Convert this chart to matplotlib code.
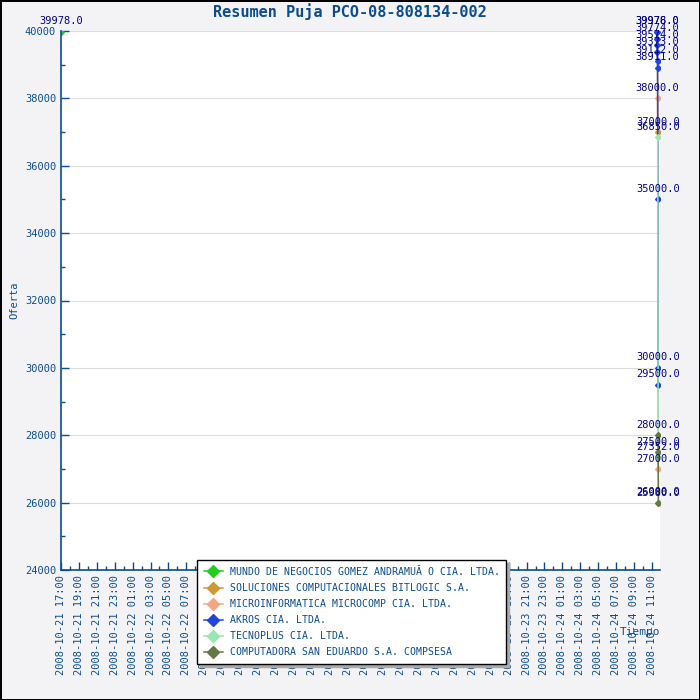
import matplotlib
matplotlib.use('Agg')
import matplotlib.pyplot as plt
import matplotlib.dates as mdates
from matplotlib.ticker import MultipleLocator
from datetime import datetime

# Ofertas por proveedor (tiempo, valor)
nombres = ['MUNDO DE NEGOCIOS GOMEZ ANDRAMUĂ O CIA. LTDA.',
           'SOLUCIONES COMPUTACIONALES BITLOGIC S.A.',
           'MICROINFORMATICA MICROCOMP CIA. LTDA.',
           'AKROS CIA. LTDA.',
           'TECNOPLUS CIA. LTDA.',
           'COMPUTADORA SAN EDUARDO S.A. COMPSESA']
colores = ['#22cc22', '#cc9933', '#f4a582', '#2244dd', '#99e6b3', '#667744']

t_mundo = ['2008-10-21 17:00']
v_mundo = [39978.0]
t_solu = ['2008-10-24 11:36', '2008-10-24 11:39']
v_solu = [39978.0, 37000.0]
t_micro = ['2008-10-24 11:38', '2008-10-24 11:42']
v_micro = [38000.0, 27000.0]
t_akros = ['2008-10-24 11:35', '2008-10-24 11:36', '2008-10-24 11:37', '2008-10-24 11:37',
           '2008-10-24 11:38', '2008-10-24 11:38', '2008-10-24 11:40', '2008-10-24 11:41',
           '2008-10-24 11:41']
v_akros = [39976.0, 39774.0, 39574.0, 39373.0, 39112.0, 38911.0, 35000.0, 30000.0, 29500.0]
t_tecno = ['2008-10-24 11:39', '2008-10-24 11:42', '2008-10-24 11:44']
v_tecno = [36850.0, 27352.0, 25980.0]
t_comp = ['2008-10-24 11:41', '2008-10-24 11:42', '2008-10-24 11:43']
v_comp = [28000.0, 27500.0, 26000.0]

series = [(t_mundo, v_mundo), (t_solu, v_solu), (t_micro, v_micro),
          (t_akros, v_akros), (t_tecno, v_tecno), (t_comp, v_comp)]

azul = '#0b4c8c'
fuente = 'DejaVu Sans Mono'

fig = plt.figure(figsize=(7, 7), dpi=100, facecolor='#f3f3f6', edgecolor='black', linewidth=2)
ax = fig.add_axes([61/700, 1 - 570/700, 599/700, 539/700])
ax.set_facecolor('white')

for (ts, vs), nom, col in zip(series, nombres, colores):
    x = [datetime.strptime(t, '%Y-%m-%d %H:%M') for t in ts]
    ax.plot(x, vs, color=col, marker='D', markersize=3, linewidth=1.1, label=nom)
    for xi, vi in zip(x, vs):
        ax.annotate('%.1f' % vi, (xi, vi), xytext=(0, 7.5), textcoords='offset points',
                    ha='center', va='center', fontsize=7.5, family=fuente, color='#000080',
                    annotation_clip=False)

ax.set_xlim(datetime(2008, 10, 21, 17, 0), datetime(2008, 10, 24, 11, 54))
ax.set_ylim(24000, 40000)
ax.yaxis.set_major_locator(MultipleLocator(2000))
ax.yaxis.set_minor_locator(MultipleLocator(1000))
ax.xaxis.set_major_locator(mdates.HourLocator(byhour=range(1, 24, 2)))
ax.xaxis.set_minor_locator(mdates.HourLocator())
ax.xaxis.set_major_formatter(mdates.DateFormatter('%Y-%m-%d %H:%M'))
ax.grid(axis='y', color='#dddddd', linewidth=0.8)
ax.set_axisbelow(True)

for s in ['top', 'right']:
    ax.spines[s].set_visible(False)
for s in ['left', 'bottom']:
    ax.spines[s].set_color(azul)
    ax.spines[s].set_linewidth(1.2)

ax.tick_params(direction='in', colors=azul, labelsize=7.5, length=6, width=1)
ax.tick_params(which='minor', direction='in', color=azul, length=3, width=1)
for lab in ax.get_xticklabels():
    lab.set_rotation(90)
    lab.set_family(fuente)
for lab in ax.get_yticklabels():
    lab.set_family(fuente)

ax.set_ylabel('Oferta', family=fuente, fontsize=7.5, color=azul, labelpad=4)
fig.text(640/700, 1 - 632/700, 'Tiempo', family=fuente, fontsize=8, color=azul,
         ha='center', va='center')
fig.suptitle('Resumen Puja PCO-08-808134-002', family=fuente, fontweight='bold',
             fontsize=11, color=azul, y=1 - 12/700, va='center')

leg = fig.legend(loc='upper left', bbox_to_anchor=(197/700, 1 - 560/700),
                 prop={'family': fuente, 'size': 7.1}, frameon=True, fancybox=False,
                 shadow={'color': '#aaaaaa', 'alpha': 1}, borderpad=0.7, markerscale=2,
                 labelspacing=0.62, handlelength=1.9, handletextpad=0.7, borderaxespad=0)
leg.get_frame().set_edgecolor('black')
leg.get_frame().set_linewidth(1)
for txt in leg.get_texts():
    txt.set_color(azul)

fig.savefig('out.png', dpi=100, facecolor=fig.get_facecolor(), edgecolor=fig.get_edgecolor())
